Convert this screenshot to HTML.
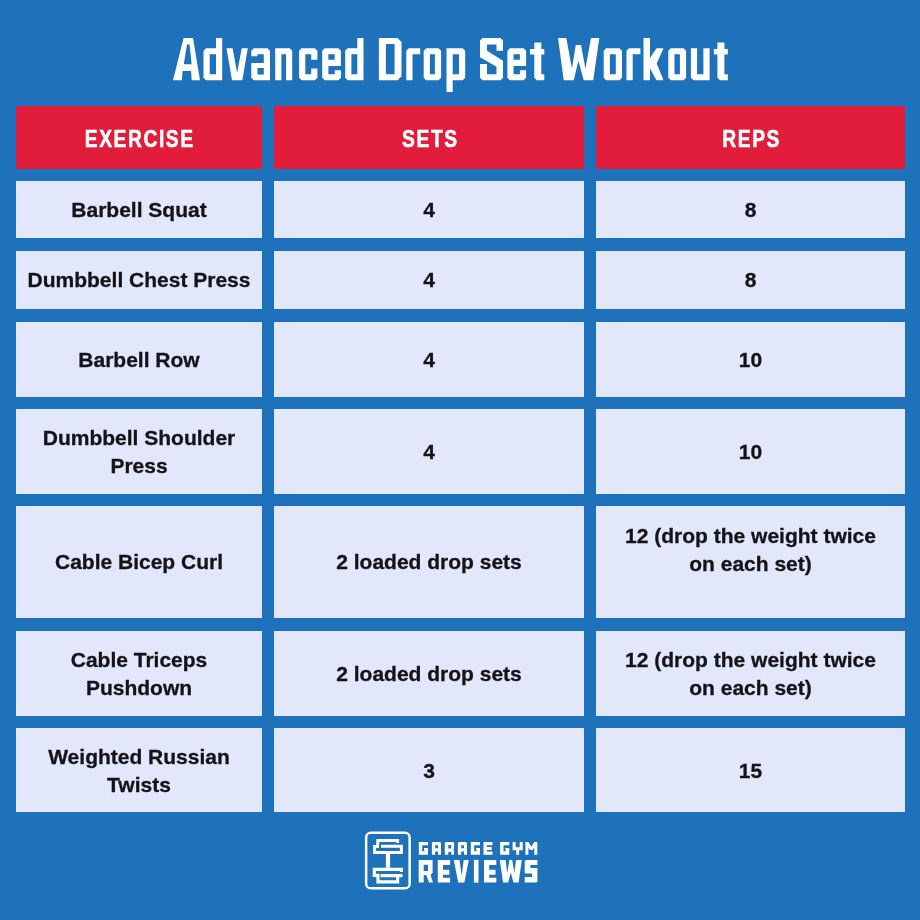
<!DOCTYPE html>
<html>
<head>
<meta charset="utf-8">
<style>
html,body{margin:0;padding:0;}
body{width:920px;height:920px;background:#1d72bb;position:relative;overflow:hidden;font-family:"Liberation Sans",sans-serif;}
.c{position:absolute;display:flex;align-items:center;justify-content:center;text-align:center;background:#e3e7fc;color:#131417;font-weight:bold;font-size:21px;line-height:28px;-webkit-text-stroke:0.3px #131417;will-change:transform;}
.h{background:#e21d3c;color:#fff;font-size:24px;box-sizing:border-box;padding-top:2px;-webkit-text-stroke:0.6px #fff;}
.h span{display:inline-block;transform:scaleX(0.80);letter-spacing:2px;margin-right:-2px;}
</style>
</head>
<body>
<svg class="ttl" style="position:absolute;left:0;top:0" width="920" height="100" viewBox="0 0 920 100"><path fill="#fff" fill-rule="evenodd" d="M183.60 38.10 L193.00 38.10 L200.00 80.30 L191.70 80.30 L191.00 71.10 L182.60 71.10 L181.80 80.30 L173.00 80.30ZM187.00 44.40 L189.60 44.40 L191.60 64.20 L183.80 64.20ZM206.00 48.20 L216.00 48.20 L216.00 38.10 L222.20 38.10 L222.20 80.30 L206.00 80.30 L203.50 77.80 L203.50 50.70ZM209.70 54.20 L216.00 54.20 L216.00 74.30 L209.70 74.30ZM226.50 48.20 L232.60 48.20 L237.15 72.90 L241.70 48.20 L247.80 48.20 L242.30 80.30 L232.00 80.30ZM253.80 48.20 L267.50 48.20 L270.00 50.70 L270.00 80.30 L253.80 80.30 L251.30 77.80 L251.30 62.90 L263.80 62.90 L263.80 54.20 L257.50 54.20 L257.50 56.30 L251.30 56.30 L251.30 50.70ZM257.50 67.90 L263.80 67.90 L263.80 74.40 L257.50 74.40ZM275.20 48.20 L289.70 48.20 L292.20 50.70 L292.20 80.30 L286.00 80.30 L286.00 54.20 L281.40 54.20 L281.40 80.30 L275.20 80.30ZM301.60 48.20 L314.90 48.20 L317.40 50.70 L317.40 59.80 L311.20 59.80 L311.20 54.20 L305.30 54.20 L305.30 74.30 L311.20 74.30 L311.20 68.50 L317.40 68.50 L317.40 77.80 L314.90 80.30 L301.60 80.30 L299.10 77.80 L299.10 50.70ZM324.70 48.20 L338.40 48.20 L340.90 50.70 L340.90 65.90 L328.40 65.90 L328.40 74.30 L334.70 74.30 L334.70 70.30 L340.90 70.30 L340.90 77.80 L338.40 80.30 L324.70 80.30 L322.20 77.80 L322.20 50.70ZM328.40 54.20 L334.70 54.20 L334.70 59.80 L328.40 59.80ZM347.70 48.20 L357.30 48.20 L357.30 38.10 L363.50 38.10 L363.50 80.30 L347.70 80.30 L345.20 77.80 L345.20 50.70ZM351.40 54.20 L357.30 54.20 L357.30 74.30 L351.40 74.30ZM378.90 38.10 L397.50 38.10 L401.50 42.10 L401.50 76.30 L397.50 80.30 L378.90 80.30ZM385.90 44.10 L394.60 44.10 L394.60 74.30 L385.90 74.30ZM408.80 48.20 L420.20 48.20 L420.20 54.20 L412.50 54.20 L412.50 80.30 L406.30 80.30 L406.30 50.70ZM426.20 48.20 L438.60 48.20 L441.10 50.70 L441.10 77.80 L438.60 80.30 L426.20 80.30 L423.70 77.80 L423.70 50.70ZM429.90 54.20 L434.90 54.20 L434.90 74.30 L429.90 74.30ZM446.50 48.20 L462.70 48.20 L465.20 50.70 L465.20 77.80 L462.70 80.30 L452.70 80.30 L452.70 92.00 L446.50 92.00ZM452.70 54.20 L459.00 54.20 L459.00 74.30 L452.70 74.30ZM482.50 38.10 L500.50 38.10 L503.00 40.60 L503.00 50.70 L496.50 50.70 L496.50 44.60 L487.00 44.60 L487.00 50.70 L503.00 60.70 L503.00 77.80 L500.50 80.30 L482.50 80.30 L480.00 77.80 L480.00 63.90 L487.00 63.90 L487.00 74.20 L496.50 74.20 L496.50 66.80 L480.00 57.20 L480.00 40.60ZM509.90 48.20 L523.60 48.20 L526.10 50.70 L526.10 65.90 L513.60 65.90 L513.60 74.30 L519.90 74.30 L519.90 70.30 L526.10 70.30 L526.10 77.80 L523.60 80.30 L509.90 80.30 L507.40 77.80 L507.40 50.70ZM513.60 54.20 L519.90 54.20 L519.90 59.80 L513.60 59.80ZM534.30 42.40 L541.30 42.40 L541.30 49.00 L544.30 49.00 L544.30 54.60 L541.30 54.60 L541.30 74.20 L544.30 74.20 L544.30 80.30 L536.80 80.30 L534.30 77.80 L534.30 54.60 L530.00 54.60 L530.00 49.00 L534.30 49.00ZM558.00 38.10 L566.30 38.10 L571.90 68.50 L575.80 45.00 L581.00 45.00 L585.40 68.50 L591.00 38.10 L599.30 38.10 L593.20 80.30 L583.70 80.30 L578.40 60.70 L573.70 80.30 L563.70 80.30ZM606.20 48.20 L619.50 48.20 L622.00 50.70 L622.00 77.80 L619.50 80.30 L606.20 80.30 L603.70 77.80 L603.70 50.70ZM609.90 54.20 L615.80 54.20 L615.80 74.30 L609.90 74.30ZM629.00 48.20 L640.40 48.20 L640.40 54.20 L632.70 54.20 L632.70 80.30 L626.50 80.30 L626.50 50.70ZM643.50 38.10 L650.00 38.10 L650.00 58.00 L656.50 48.20 L663.50 48.20 L656.70 63.50 L663.50 80.30 L656.50 80.30 L650.00 68.50 L650.00 80.30 L643.50 80.30ZM670.80 48.20 L683.60 48.20 L686.10 50.70 L686.10 77.80 L683.60 80.30 L670.80 80.30 L668.30 77.80 L668.30 50.70ZM674.50 54.20 L679.90 54.20 L679.90 74.30 L674.50 74.30ZM690.90 48.20 L697.10 48.20 L697.10 74.30 L703.40 74.30 L703.40 48.20 L709.60 48.20 L709.60 80.30 L693.40 80.30 L690.90 77.80ZM717.40 42.40 L724.40 42.40 L724.40 49.00 L727.80 49.00 L727.80 54.60 L724.40 54.60 L724.40 74.20 L727.80 74.20 L727.80 80.30 L719.90 80.30 L717.40 77.80 L717.40 54.60 L713.90 54.60 L713.90 49.00 L717.40 49.00Z"/></svg>

<div class="c h" style="left:16px;top:106px;width:246px;height:63px;"><span>EXERCISE</span></div>
<div class="c h" style="left:274px;top:106px;width:310px;height:63px;"><span>SETS</span></div>
<div class="c h" style="left:596px;top:106px;width:309px;height:63px;"><span>REPS</span></div>

<div class="c" style="left:16px;top:181px;width:246px;height:57px;">Barbell Squat</div>
<div class="c" style="left:274px;top:181px;width:310px;height:57px;">4</div>
<div class="c" style="left:596px;top:181px;width:309px;height:57px;">8</div>

<div class="c" style="left:16px;top:251px;width:246px;height:58px;">Dumbbell Chest Press</div>
<div class="c" style="left:274px;top:251px;width:310px;height:58px;">4</div>
<div class="c" style="left:596px;top:251px;width:309px;height:58px;">8</div>

<div class="c" style="left:16px;top:322px;width:246px;height:75px;">Barbell Row</div>
<div class="c" style="left:274px;top:322px;width:310px;height:75px;">4</div>
<div class="c" style="left:596px;top:322px;width:309px;height:75px;">10</div>

<div class="c" style="left:16px;top:409px;width:246px;height:85px;">Dumbbell Shoulder<br>Press</div>
<div class="c" style="left:274px;top:409px;width:310px;height:85px;">4</div>
<div class="c" style="left:596px;top:409px;width:309px;height:85px;">10</div>

<div class="c" style="left:16px;top:506px;width:246px;height:112px;">Cable Bicep Curl</div>
<div class="c" style="left:274px;top:506px;width:310px;height:112px;">2 loaded drop sets</div>
<div class="c" style="left:596px;top:506px;width:309px;height:112px;"><span style="position:relative;top:1.5px">12 (drop the weight twice<br>on each set)<br>&nbsp;</span></div>

<div class="c" style="left:16px;top:631px;width:246px;height:85px;">Cable Triceps<br>Pushdown</div>
<div class="c" style="left:274px;top:631px;width:310px;height:85px;">2 loaded drop sets</div>
<div class="c" style="left:596px;top:631px;width:309px;height:85px;">12 (drop the weight twice<br>on each set)</div>

<div class="c" style="left:16px;top:728px;width:246px;height:84px;box-sizing:border-box;padding-top:2px;">Weighted Russian<br>Twists</div>
<div class="c" style="left:274px;top:728px;width:310px;height:84px;box-sizing:border-box;padding-top:2px;">3</div>
<div class="c" style="left:596px;top:728px;width:309px;height:84px;box-sizing:border-box;padding-top:2px;">15</div>

<!-- logo -->
<svg style="position:absolute;left:0;top:0" width="920" height="920" viewBox="0 0 920 920">
 <g fill="none" stroke="#fff" stroke-linejoin="miter" stroke-linecap="butt">
  <rect x="366.15" y="832.85" width="43.5" height="55.4" rx="4.6" stroke-width="2.5"/>
  <path stroke-width="3" d="M397.6 842.9 V840.4 H377.8 L377.6 846.6 H374.6 V852.6 H401.4 V846.3 H381"/>
  <path stroke-width="3.2" d="M374.3 875.3 V869.4 H401.4 V872 M374.3 869.4 V875.3 H378 V881.8 H397.6 V875.6 M380.6 875.6 H402.5"/>
  <path stroke-width="4.2" d="M388 854 V867.8"/>
 </g>
 <g fill="#fff">
  <path transform="translate(418.8,841.9)" d="M0 0h9.2v3.3h-9.2zM0 0h3.4v12.8h-3.4zM0 9.4h9.2v3.4h-9.2zM6 6h3.2v6.8h-3.2zM5.2 6h4v2.6h-4z"/>
  <path transform="translate(431.9,841.9)" d="M0 1h3.3v11.8h-3.3zM6.1 1h3v11.8h-3zM1 0 L8.1 0 L9.1 1 L9.1 3.3 L0 3.3 L0 1zM0 6.3h9.1v3.3h-9.1z"/>
  <path transform="translate(444.8,841.9)" d="M1 0 L8.3 0 L9.3 1 L9.3 6.9 L8.3 7.9 L9.3 8.9 L9.3 12.8 L6.4 12.8 L6.4 10.1 L3.5 10.1 L3.5 12.8 L0 12.8 L0 1zM3.5 3.2v3.3h2.9v-3.3z"/>
  <path transform="translate(457.9,841.9)" d="M0 1h3.3v11.8h-3.3zM6.1 1h3v11.8h-3zM1 0 L8.1 0 L9.1 1 L9.1 3.3 L0 3.3 L0 1zM0 6.3h9.1v3.3h-9.1z"/>
  <path transform="translate(470.8,841.9)" d="M0 0h9.2v3.3h-9.2zM0 0h3.4v12.8h-3.4zM0 9.4h9.2v3.4h-9.2zM6 6h3.2v6.8h-3.2zM5.2 6h4v2.6h-4z"/>
  <path transform="translate(483.5,841.9)" d="M0 0h9v3.3h-9zM0 0h3.4v12.8h-3.4zM0 5.1h8.2v3h-8.2zM0 9.5h9v3.3h-9z"/>
  <path transform="translate(500.1,841.9)" d="M0 0h9.2v3.3h-9.2zM0 0h3.4v12.8h-3.4zM0 9.4h9.2v3.4h-9.2zM6 6h3.2v6.8h-3.2zM5.2 6h4v2.6h-4z"/>
  <path transform="translate(512.6,841.9)" d="M0 0h3v7h-3zM7.1 0h3v7h-3zM0 5.4h10.1v3h-10.1zM3.6 7h2.9v5.8h-2.9z"/>
  <path transform="translate(525.4,841.9)" d="M0 0h3v12.8h-3zM8.9 0h3v12.8h-3zM0 0 L3 0 L5.95 4.5 L8.9 0 L11.9 0 L7.4 8 L4.5 8z"/>
  <path transform="translate(418.7,859.9)" d="M0 0h5v22.7h-5zM0 0h13.9v4.8h-13.9zM9.3 0h4.6v12.5h-4.6zM0 11 L13.9 11 L13.9 12.8 L11.8 15.2 L0 15.2zM7.6 15 L11.9 15 L14.2 22.7 L10.3 22.7z"/>
  <path transform="translate(437.8,859.9)" d="M0 0h5.2v22.7h-5.2zM0 0h12.3v5h-12.3zM0 9.8h11.5v5h-11.5zM0 17.9h12.3v4.8h-12.3z"/>
  <path transform="translate(453.8,859.9)" d="M0 0 L5.7 0 L7.9 15.5 L9.9 0 L15 0 L10.6 22.7 L4.4 22.7z"/>
  <path transform="translate(473.9,859.9)" d="M0 0h4.6v22.7h-4.6z"/>
  <path transform="translate(484,859.9)" d="M0 0h5.2v22.7h-5.2zM0 0h12.3v5h-12.3zM0 9.8h11.5v5h-11.5zM0 17.9h12.3v4.8h-12.3z"/>
  <path transform="translate(499.8,859.9)" d="M0 0 L5.8 0 L7.4 13 L9.6 0 L12.4 0 L14.6 13 L16.2 0 L22 0 L18.8 22.7 L13.6 22.7 L11 12.5 L8.4 22.7 L3.2 22.7z"/>
  <path transform="translate(524.7,859.9)" d="M0.8 0h11.9v5.2h-11.9zM0 0.8h5.7v12.8h-5.7zM0 8.1h12.7v5.5h-12.7zM7.3 8.1h5.4v13.8h-5.4zM0 17.1h11.9v5.6h-11.9z"/>
 </g>
</svg>
</body>
</html>
